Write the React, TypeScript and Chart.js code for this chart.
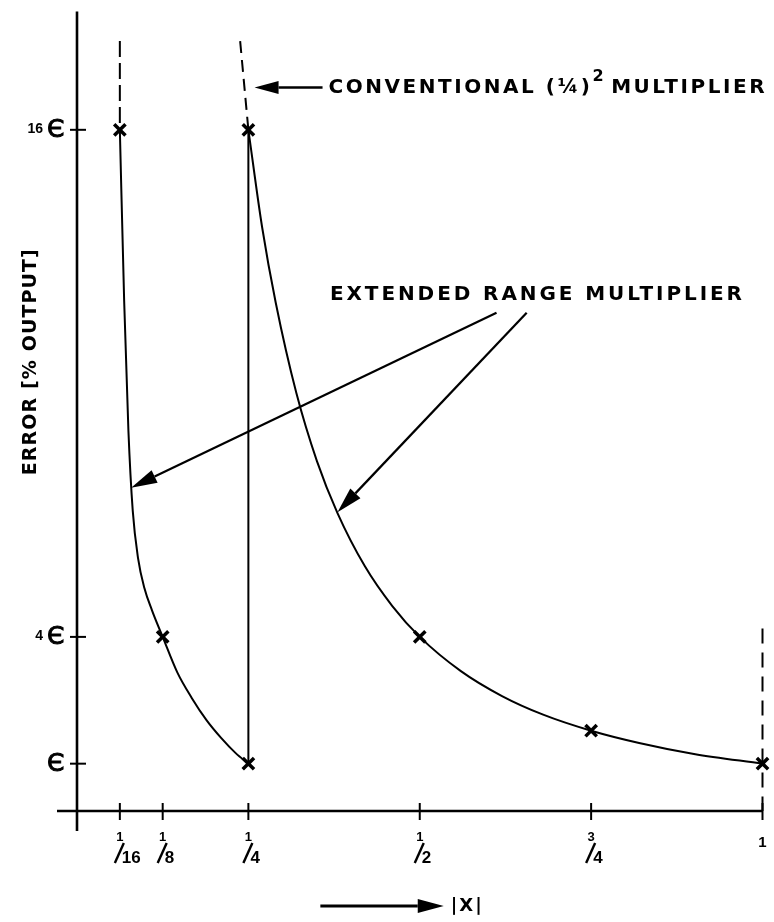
import React, { useEffect, useRef } from "react";
import { Chart, registerables } from "chart.js";

Chart.register(...registerables);

// ---- Data (x = |X|, y = error in units of epsilon) ----
const conventionalX = [0.25, 0.27, 0.29, 0.32, 0.35, 0.38, 0.42, 0.46, 0.5, 0.56, 0.62, 0.68, 0.75, 0.82, 0.9, 1];
const conventionalY = [16, 13.7, 11.9, 9.77, 8.16, 6.93, 5.67, 4.73, 4, 3.19, 2.6, 2.16, 1.78, 1.49, 1.23, 1];

const extendedX = [0.0625, 0.0688, 0.075, 0.0813, 0.0891, 0.0984, 0.1094, 0.125, 0.1463, 0.1676, 0.1889, 0.2102, 0.2315, 0.25];
const extendedY = [16, 11.95, 8.88, 6.99, 5.86, 5.15, 4.63, 4, 3.16, 2.55, 2.03, 1.61, 1.25, 1];

const switchX = [0.25, 0.25];
const switchY = [16, 1];

const markerX = [0.0625, 0.125, 0.25, 0.25, 0.5, 0.75, 1];
const markerY = [16, 4, 1, 16, 4, 1.78, 1];

const dash16X = [0.0625, 0.0625];
const dash16Y = [18.1, 16];
const dashQuarterX = [0.238, 0.25];
const dashQuarterY = [18.1, 16];
const dashOneX = [1, 1];
const dashOneY = [4.2, -0.12];

const yTickValues = [1, 4, 16];
const yTickNumbers = ["", "4", "16"];
const yTickSymbol = "Є";

const xTickValues = [1 / 16, 1 / 8, 1 / 4, 1 / 2, 3 / 4, 1];
const xTickNumerators = ["1", "1", "1", "1", "3", ""];
const xTickDenominators = ["16", "8", "4", "2", "4", ""];
const xTickPlain = ["", "", "", "", "", "1"];

const yTitle = "ERROR [% OUTPUT]";
const xTitle = "|X|";
const convLabelA = "CONVENTIONAL (¼)";
const convLabelSup = "2";
const convLabelB = "MULTIPLIER";
const extLabel = "EXTENDED RANGE MULTIPLIER";

const X_MIN = 0;
const X_MAX = 1;
const Y_MIN = -0.12;
const Y_MAX = 18.8;

const FONT = '"Liberation Sans", Arial, sans-serif';
const WIDE = '"DejaVu Sans", "Liberation Sans", sans-serif';

function pts(xs: number[], ys: number[]) {
  return xs.map((x, i) => ({ x, y: ys[i] }));
}

function arrow(ctx: CanvasRenderingContext2D, fx: number, fy: number, tx: number, ty: number, headLen = 20, headW = 6, lw = 2) {
  const ang = Math.atan2(ty - fy, tx - fx);
  const bx = tx - headLen * Math.cos(ang);
  const by = ty - headLen * Math.sin(ang);
  ctx.save();
  ctx.strokeStyle = "#000";
  ctx.fillStyle = "#000";
  ctx.lineWidth = lw;
  ctx.beginPath();
  ctx.moveTo(fx, fy);
  ctx.lineTo(bx, by);
  ctx.stroke();
  ctx.beginPath();
  ctx.moveTo(tx, ty);
  ctx.lineTo(bx + headW * Math.sin(ang), by - headW * Math.cos(ang));
  ctx.lineTo(bx - headW * Math.sin(ang), by + headW * Math.cos(ang));
  ctx.closePath();
  ctx.fill();
  ctx.restore();
}

// text spread to a given width by letter spacing
function spacedText(ctx: CanvasRenderingContext2D, parts: { t: string; font: string; dy: number; gap: number }[], x: number, y: number, width: number) {
  (ctx as any).letterSpacing = "0px";
  let natural = 0;
  let count = 0;
  parts.forEach((p) => {
    ctx.font = p.font;
    natural += ctx.measureText(p.t).width + p.gap;
    count += p.t.length;
  });
  const sp = Math.max(0, (width - natural) / Math.max(1, count - 1));
  (ctx as any).letterSpacing = `${sp}px`;
  let cx = x;
  parts.forEach((p) => {
    ctx.font = p.font;
    ctx.fillText(p.t, cx, y + p.dy);
    cx += ctx.measureText(p.t).width + p.gap;
  });
  (ctx as any).letterSpacing = "0px";
}

const overlay = {
  id: "overlay",
  afterDraw(chart: any) {
    const ctx: CanvasRenderingContext2D = chart.ctx;
    const xs = chart.scales.x;
    const ys = chart.scales.y;
    const px = (v: number) => xs.getPixelForValue(v);
    const py = (v: number) => ys.getPixelForValue(v);
    const x0 = px(0);
    const axisY = py(Y_MIN);
    ctx.save();
    ctx.strokeStyle = "#000";
    ctx.fillStyle = "#000";
    ctx.lineCap = "butt";

    // axes
    ctx.lineWidth = 2.6;
    ctx.beginPath();
    ctx.moveTo(x0, py(Y_MAX));
    ctx.lineTo(x0, axisY + 20);
    ctx.moveTo(x0 - 20, axisY);
    ctx.lineTo(px(X_MAX), axisY);
    ctx.stroke();

    // y ticks & labels
    yTickValues.forEach((v, i) => {
      const yy = py(v);
      ctx.lineWidth = 2;
      ctx.beginPath();
      ctx.moveTo(x0 - 7, yy);
      ctx.lineTo(x0 + 9, yy);
      ctx.stroke();
      ctx.font = `25px ${WIDE}`;
      ctx.textAlign = "left";
      ctx.textBaseline = "middle";
      ctx.fillText(yTickSymbol, x0 - 30, yy + 1);
      ctx.lineWidth = 0.9;
      ctx.strokeText(yTickSymbol, x0 - 30, yy + 1);
      if (yTickNumbers[i]) {
        ctx.font = `bold 14px ${FONT}`;
        ctx.textAlign = "right";
        ctx.fillText(yTickNumbers[i], x0 - 34, yy - 1);
      }
    });

    // x ticks & labels
    xTickValues.forEach((v, i) => {
      const xx = px(v);
      ctx.lineWidth = 2;
      ctx.beginPath();
      ctx.moveTo(xx, axisY - 8);
      ctx.lineTo(xx, axisY + 9);
      ctx.stroke();
      const top = axisY + 20;
      if (xTickNumerators[i]) {
        ctx.font = `bold 13px ${FONT}`;
        ctx.textAlign = "center";
        ctx.textBaseline = "alphabetic";
        ctx.fillText(xTickNumerators[i], xx, top + 10);
        ctx.lineWidth = 2.4;
        ctx.beginPath();
        ctx.moveTo(xx - 5, top + 32);
        ctx.lineTo(xx + 4, top + 12);
        ctx.stroke();
        ctx.font = `bold 17px ${FONT}`;
        ctx.textAlign = "left";
        ctx.fillText(xTickDenominators[i], xx + 2, top + 32);
      }
      if (xTickPlain[i]) {
        ctx.font = `bold 15px ${FONT}`;
        ctx.textAlign = "center";
        ctx.textBaseline = "alphabetic";
        ctx.fillText(xTickPlain[i], xx, top + 16);
      }
    });

    // y title (rotated)
    ctx.save();
    ctx.translate(31, py(10.5));
    ctx.rotate(-Math.PI / 2);
    ctx.textAlign = "left";
    ctx.textBaseline = "middle";
    spacedText(ctx, [{ t: yTitle, font: `bold 19px ${WIDE}`, dy: 0, gap: 0 }], -113, 0, 226);
    ctx.restore();

    // x title with arrow
    const xtY = axisY + 95;
    arrow(ctx, px(0.355), xtY, px(0.535), xtY, 26, 7, 2.8);
    ctx.font = `bold 18px ${WIDE}`;
    (ctx as any).letterSpacing = "2px";
    ctx.textAlign = "left";
    ctx.textBaseline = "middle";
    ctx.fillText(xTitle, px(0.535) + 7, xtY);
    (ctx as any).letterSpacing = "0px";

    // conventional annotation
    const cTipX = px(0.259);
    const cTipY = py(17.0);
    arrow(ctx, cTipX + 68, cTipY, cTipX, cTipY, 24, 6.5, 2.6);
    ctx.textAlign = "left";
    ctx.textBaseline = "middle";
    spacedText(
      ctx,
      [
        { t: convLabelA, font: `bold 20px ${WIDE}`, dy: 0, gap: 0 },
        { t: convLabelSup, font: `bold 16px ${WIDE}`, dy: -11, gap: 5 },
        { t: convLabelB, font: `bold 20px ${WIDE}`, dy: 0, gap: 0 },
      ],
      cTipX + 74,
      cTipY,
      436
    );

    // extended annotation
    const eX = px(0.369);
    const eY = py(12.1);
    ctx.textAlign = "left";
    ctx.textBaseline = "middle";
    spacedText(ctx, [{ t: extLabel, font: `bold 20px ${WIDE}`, dy: 0, gap: 0 }], eX, eY, 412);
    arrow(ctx, px(0.612), py(11.67), px(0.079), py(7.53), 26, 7, 2.2);
    arrow(ctx, px(0.656), py(11.67), px(0.38), py(6.95), 26, 7, 2.2);

    ctx.restore();
  },
};

export default function App() {
  const ref = useRef<HTMLCanvasElement>(null);
  useEffect(() => {
    if (!ref.current) return;
    const line = {
      borderColor: "#000",
      borderWidth: 2,
      pointRadius: 0,
      fill: false,
      clip: false as any,
    };
    const chart = new Chart(ref.current, {
      type: "line",
      data: {
        datasets: [
          { ...line, label: "Conventional (¼)² multiplier", data: pts(conventionalX, conventionalY), cubicInterpolationMode: "monotone" },
          { ...line, label: "Extended range multiplier", data: pts(extendedX, extendedY), cubicInterpolationMode: "monotone" },
          { ...line, label: "Range switch", data: pts(switchX, switchY) },
          { ...line, label: "dash 1/16", data: pts(dash16X, dash16Y), borderDash: [16, 6] },
          { ...line, label: "dash 1/4", data: pts(dashQuarterX, dashQuarterY), borderDash: [12, 7] },
          { ...line, label: "dash 1", data: pts(dashOneX, dashOneY), borderDash: [15, 9] },
          {
            label: "Points",
            data: pts(markerX, markerY),
            showLine: false,
            pointStyle: "crossRot",
            pointRadius: 8,
            pointBorderWidth: 3.5,
            pointBorderColor: "#000",
            pointBackgroundColor: "#000",
            borderColor: "#000",
            clip: false as any,
          },
        ],
      },
      options: {
        animation: false,
        responsive: false,
        events: [],
        layout: { padding: { left: 77, right: 6, top: 10, bottom: 111 } },
        plugins: { legend: { display: false }, tooltip: { enabled: false } },
        scales: {
          x: { type: "linear", min: X_MIN, max: X_MAX, display: false },
          y: { type: "linear", min: Y_MIN, max: Y_MAX, display: false },
        },
      },
      plugins: [overlay],
    } as any);
    return () => chart.destroy();
  }, []);
  return (
    <div style={{ position: "absolute", left: 0, top: 0, width: 774, height: 922, background: "#fff" }}>
      <canvas ref={ref} width={774} height={922} style={{ display: "block", width: 774, height: 922 }} />
    </div>
  );
}
